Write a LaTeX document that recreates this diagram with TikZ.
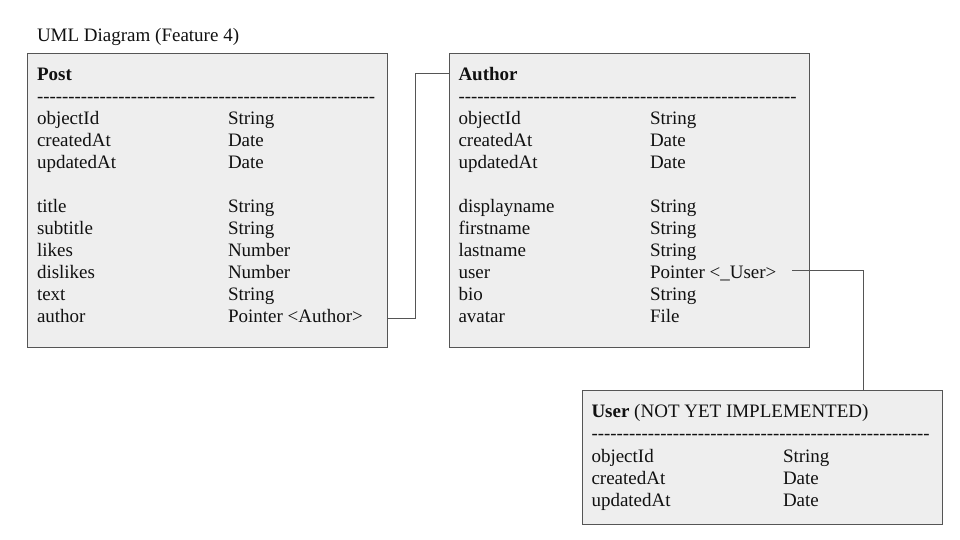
\documentclass[tikz,border=0pt]{standalone}
\usepackage{fontspec}
\setmainfont{Liberation Serif}
\definecolor{boxfill}{HTML}{EEEEEE}
\definecolor{edgegray}{HTML}{555555}
\definecolor{ink}{HTML}{111111}
\tikzset{
  umlbox/.style={draw=edgegray, fill=boxfill, line width=1pt, anchor=north west,
    inner sep=0pt, outer sep=0pt},
  txt/.style={anchor=base west, inner sep=0pt, outer sep=0pt,
    font=\fontsize{19}{22}\selectfont, text=ink},
  hytxt/.style={anchor=base west, inner sep=0pt, outer sep=0pt,
    font=\fontsize{18.8}{22}\selectfont, text=ink},
  conn/.style={draw=edgegray, line width=1pt},
}
\newcommand\hyrow{\foreach\i in {1,...,54}{\hbox{-}}}
\begin{document}
\begin{tikzpicture}[x=1pt,y=-1pt]
\useasboundingbox (0,0) rectangle (960,540);
\fill[white] (0,0) rectangle (960,540);

\node[txt] (title) at (37,41.5) {UML Diagram (Feature 4)};

% boxes
\node[umlbox, minimum width=360pt, minimum height=293pt] (post) at (27,54) {};
\node[umlbox, minimum width=360pt, minimum height=293pt] (author) at (449.5,54) {};
\node[umlbox, minimum width=360pt, minimum height=134pt] (user) at (582,390) {};

% Post
\node[txt] (posthead) at (37,80.5) {\bfseries Post};
\node[hytxt] (postsep) at (37,102.5) {\hyrow};
\foreach \y/\n/\t [count=\k] in {124.5/objectId/String, 146.5/createdAt/Date, 168.5/updatedAt/Date,
  212.5/title/String, 234.5/subtitle/String, 256.5/likes/Number, 278.5/dislikes/Number,
  300.5/text/String, 322.5/author/Pointer <Author>}{
  \node[txt] (pn\k) at (37,\y) {\n};
  \node[txt] (pt\k) at (228,\y) {\t};
}

% Author
\node[txt] (authorhead) at (458.5,80.5) {\bfseries Author};
\node[hytxt] (authorsep) at (458.5,102.5) {\hyrow};
\foreach \y/\n/\t [count=\k] in {124.5/objectId/String, 146.5/createdAt/Date, 168.5/updatedAt/Date,
  212.5/displayname/String, 234.5/firstname/String, 256.5/lastname/String, 278.5/user/Pointer <\_User>,
  300.5/bio/String, 322.5/avatar/File}{
  \node[txt] (an\k) at (458.5,\y) {\n};
  \node[txt] (at\k) at (650,\y) {\t};
}

% User
\node[txt] (userhead) at (591.5,417.5) {\textbf{User} (NOT YET IMPLEMENTED)};
\node[hytxt] (usersep) at (591.5,439.5) {\hyrow};
\foreach \y/\n/\t [count=\k] in {462/objectId/String, 484/createdAt/Date, 506/updatedAt/Date}{
  \node[txt] (un\k) at (591.5,\y) {\n};
  \node[txt] (ut\k) at (783,\y) {\t};
}

% connectors
\coordinate (c1a) at (415.5,318);
\coordinate (c1b) at (415.5,74);
\draw[conn] (post.east |- c1a) -- (c1a) -- (c1b) -- (author.west |- c1b);
\coordinate (c2s) at (792,270.5);
\coordinate (c2b) at (863,270.5);
\draw[conn] (c2s) -- (c2b) -- (user.north -| c2b);
\end{tikzpicture}
\end{document}
